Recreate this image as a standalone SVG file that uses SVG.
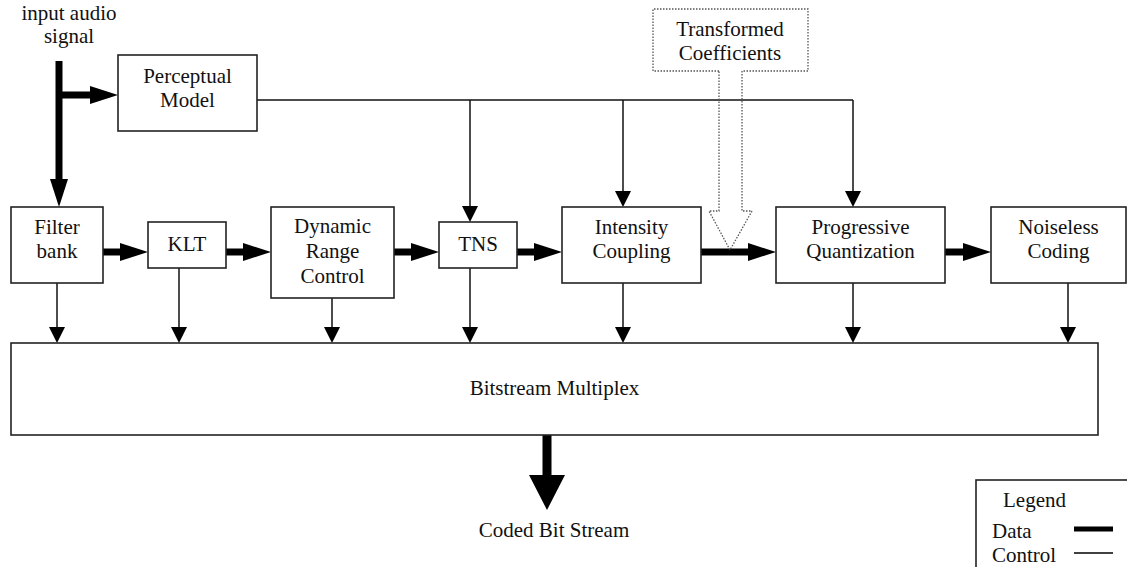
<svg xmlns="http://www.w3.org/2000/svg" width="1127" height="567" viewBox="0 0 1127 567">
<style>
  .box { fill: #fff; stroke: #222; stroke-width: 1.6; }
  .data { fill: none; stroke: #000; stroke-width: 7; }
  .ctl { fill: none; stroke: #111; stroke-width: 1.5; }
  .dot { fill: none; stroke: #555; stroke-width: 1.3; stroke-dasharray: 1.5 1.5; }
</style>
<defs>
  <marker id="da" viewBox="0 0 28 18" refX="2" refY="9" markerWidth="28" markerHeight="18" markerUnits="userSpaceOnUse" orient="auto">
    <path d="M0,0 L28,9 L0,18 Z" fill="#000"/>
  </marker>
  <marker id="ca" viewBox="0 0 16 16" refX="2" refY="8" markerWidth="16" markerHeight="16" markerUnits="userSpaceOnUse" orient="auto">
    <path d="M0,0 L16,8 L0,16 Z" fill="#000"/>
  </marker>
</defs>

<g id="connectors">
  <path class="data" d="M59,61 V181" marker-end="url(#da)"/>
  <path class="data" d="M59,95 H92" marker-end="url(#da)"/>
  <path class="data" d="M103,252 H122" marker-end="url(#da)"/>
  <path class="data" d="M226,252 H245" marker-end="url(#da)"/>
  <path class="data" d="M394,252 H413" marker-end="url(#da)"/>
  <path class="data" d="M517,252 H536" marker-end="url(#da)"/>
  <path class="data" d="M701,252 H750" marker-end="url(#da)"/>
  <path class="data" d="M945,252 H965" marker-end="url(#da)"/>
  <path class="ctl" d="M257,100 H853"/>
  <path class="ctl" d="M470,100 V208" marker-end="url(#ca)"/>
  <path class="ctl" d="M623,100 V193" marker-end="url(#ca)"/>
  <path class="ctl" d="M853,100 V193" marker-end="url(#ca)"/>
  <path class="ctl" d="M57,283 V329" marker-end="url(#ca)"/>
  <path class="ctl" d="M179,268 V329" marker-end="url(#ca)"/>
  <path class="ctl" d="M332,298 V329" marker-end="url(#ca)"/>
  <path class="ctl" d="M470,268 V329" marker-end="url(#ca)"/>
  <path class="ctl" d="M623,283 V329" marker-end="url(#ca)"/>
  <path class="ctl" d="M853,283 V329" marker-end="url(#ca)"/>
  <path class="ctl" d="M1068,283 V329" marker-end="url(#ca)"/>
  <polygon points="542.5,435 551.5,435 551.5,475 565,475 547,510 529,475 542.5,475" fill="#000"/>
</g>

<g id="input-label">
  <text style="font-family:'Liberation Serif',serif;font-size:21px;fill:#111;text-anchor:middle" x="69" y="20">input audio</text>
  <text style="font-family:'Liberation Serif',serif;font-size:21px;fill:#111;text-anchor:middle" x="69" y="43">signal</text>
</g>

<g id="transformed-coefficients">
  <path class="dot" d="M719,71 H653 V9 H808 V71 H742 V211 H752 L730,250 L709,211 H719 Z"/>
  <text style="font-family:'Liberation Serif',serif;font-size:21px;fill:#111;text-anchor:middle" x="730" y="36">Transformed</text>
  <text style="font-family:'Liberation Serif',serif;font-size:21px;fill:#111;text-anchor:middle" x="730" y="60">Coefficients</text>
</g>

<g id="perceptual-model">
  <rect class="box" x="118" y="55" width="139" height="76"/>
  <text style="font-family:'Liberation Serif',serif;font-size:21px;fill:#111;text-anchor:middle" x="187.5" y="83">Perceptual</text>
  <text style="font-family:'Liberation Serif',serif;font-size:21px;fill:#111;text-anchor:middle" x="187.5" y="107">Model</text>
</g>

<g id="filter-bank">
  <rect class="box" x="11" y="207" width="92" height="76"/>
  <text style="font-family:'Liberation Serif',serif;font-size:21px;fill:#111;text-anchor:middle" x="57" y="234">Filter</text>
  <text style="font-family:'Liberation Serif',serif;font-size:21px;fill:#111;text-anchor:middle" x="57" y="258">bank</text>
</g>

<g id="klt">
  <rect class="box" x="148" y="222" width="78" height="46"/>
  <text style="font-family:'Liberation Serif',serif;font-size:21px;fill:#111;text-anchor:middle" x="187" y="251">KLT</text>
</g>

<g id="dynamic-range-control">
  <rect class="box" x="271" y="207" width="123" height="91"/>
  <text style="font-family:'Liberation Serif',serif;font-size:21px;fill:#111;text-anchor:middle" x="332.5" y="233">Dynamic</text>
  <text style="font-family:'Liberation Serif',serif;font-size:21px;fill:#111;text-anchor:middle" x="332.5" y="258">Range</text>
  <text style="font-family:'Liberation Serif',serif;font-size:21px;fill:#111;text-anchor:middle" x="332.5" y="283">Control</text>
</g>

<g id="tns">
  <rect class="box" x="439" y="222" width="78" height="46"/>
  <text style="font-family:'Liberation Serif',serif;font-size:21px;fill:#111;text-anchor:middle" x="478" y="251">TNS</text>
</g>

<g id="intensity-coupling">
  <rect class="box" x="562" y="207" width="139" height="76"/>
  <text style="font-family:'Liberation Serif',serif;font-size:21px;fill:#111;text-anchor:middle" x="631.5" y="234">Intensity</text>
  <text style="font-family:'Liberation Serif',serif;font-size:21px;fill:#111;text-anchor:middle" x="631.5" y="258">Coupling</text>
</g>

<g id="progressive-quantization">
  <rect class="box" x="776" y="207" width="169" height="76"/>
  <text style="font-family:'Liberation Serif',serif;font-size:21px;fill:#111;text-anchor:middle" x="860.5" y="234">Progressive</text>
  <text style="font-family:'Liberation Serif',serif;font-size:21px;fill:#111;text-anchor:middle" x="860.5" y="258">Quantization</text>
</g>

<g id="noiseless-coding">
  <rect class="box" x="991" y="207" width="135" height="76"/>
  <text style="font-family:'Liberation Serif',serif;font-size:21px;fill:#111;text-anchor:middle" x="1058.5" y="234">Noiseless</text>
  <text style="font-family:'Liberation Serif',serif;font-size:21px;fill:#111;text-anchor:middle" x="1058.5" y="258">Coding</text>
</g>

<g id="bitstream-multiplex">
  <rect class="box" x="11" y="343" width="1087" height="92"/>
  <text style="font-family:'Liberation Serif',serif;font-size:21px;fill:#111;text-anchor:middle" x="554.5" y="395">Bitstream Multiplex</text>
</g>

<g id="coded-bit-stream">
  <text style="font-family:'Liberation Serif',serif;font-size:21px;fill:#111;text-anchor:middle" x="554" y="537">Coded Bit Stream</text>
</g>

<g id="legend">
  <rect class="box" x="976" y="480" width="170" height="110"/>
  <text style="font-family:'Liberation Serif',serif;font-size:21px;fill:#111;text-anchor:start" x="1003" y="507">Legend</text>
  <text style="font-family:'Liberation Serif',serif;font-size:21px;fill:#111;text-anchor:start" x="992" y="538">Data</text>
  <text style="font-family:'Liberation Serif',serif;font-size:21px;fill:#111;text-anchor:start" x="992" y="562">Control</text>
  <line x1="1074" y1="529" x2="1113" y2="529" stroke="#000" stroke-width="5"/>
  <line x1="1074" y1="553" x2="1113" y2="553" stroke="#000" stroke-width="1.5"/>
</g>
</svg>
